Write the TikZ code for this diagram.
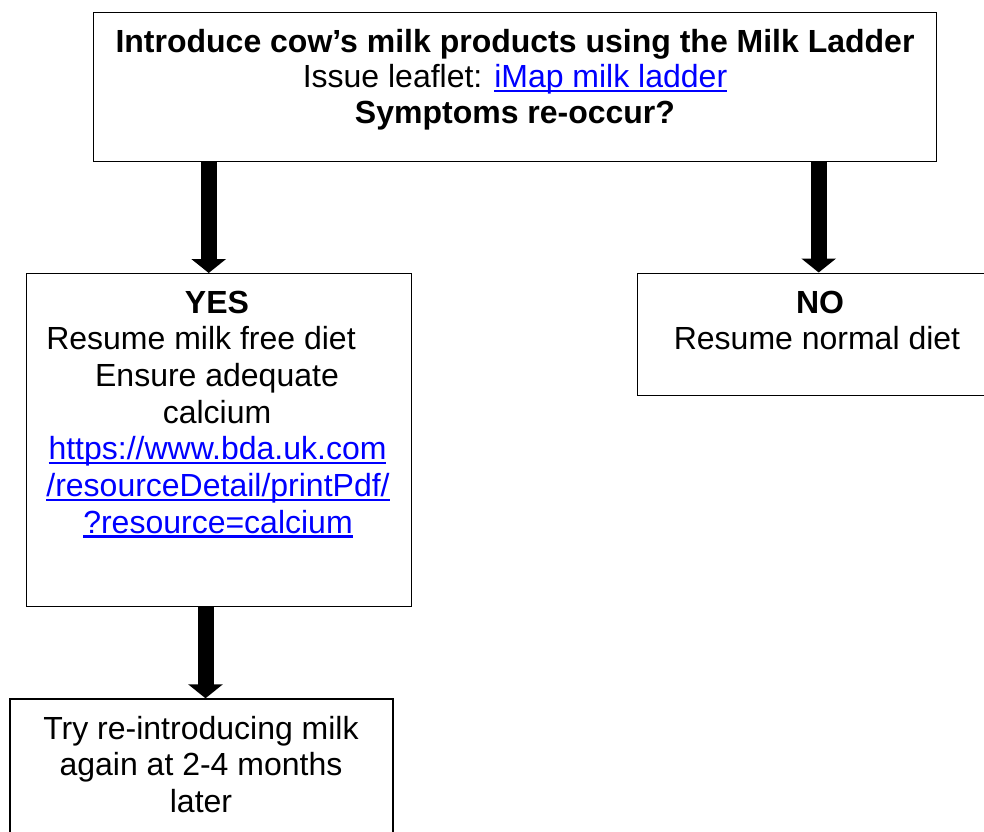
\documentclass[tikz,border=0pt]{standalone}
\usepackage{fontspec}
\setmainfont{Liberation Sans}
\usetikzlibrary{arrows.meta}
\definecolor{linkblue}{RGB}{0,0,255}
\newsavebox\ulbox
\newcommand\lnk[1]{\textcolor{linkblue}{\sbox\ulbox{#1}\rlap{\rule[-4.55pt]{\wd\ulbox}{2.3pt}}\usebox\ulbox}}
\begin{document}
\begin{tikzpicture}[x=1pt,y=-1pt,
  box/.style={draw=black,line width=1.4pt,anchor=north west,inner sep=0pt,fill=none},
  txt/.style={anchor=base,inner sep=0pt,font=\fontsize{32}{36.8}\selectfont},
  bigarrow/.style={line width=16pt,-{Triangle[width=34pt,length=14pt]}}
]
\useasboundingbox (0,0) rectangle (984,831);
\clip (0,0) rectangle (984,831);
% boxes
\node[box,minimum width=843pt,minimum height=149pt] (top) at (93,12) {};
\node[box,minimum width=385pt,minimum height=332.7pt] (yes) at (25.7,273) {};
\node[box,minimum width=360pt,minimum height=122.5pt] (no) at (636.7,272.5) {};
\node[box,minimum width=383pt,minimum height=145pt] (try) at (9.3,698.3) {};
% texts
\node[txt] (t1) at (515,52) {\textbf{Introduce cow’s milk products using the Milk Ladder}};
\node[txt] (t2) at (515,87.5) {Issue leaflet: \lnk{iMap milk ladder}};
\node[txt] (t3) at (515,123) {\textbf{Symptoms re-occur?}};
\node[txt] (y1) at (217,313) {\textbf{YES}};
\node[txt] (y2) at (201,349.5) {Resume milk free diet};
\node[txt] (y3) at (217,386.3) {Ensure adequate};
\node[txt] (y4) at (217,423) {calcium};
\node[txt] (y5) at (217.5,459.8) {\lnk{https://www.bda.uk.com}};
\node[txt] (y6) at (218,496.5) {\lnk{/resourceDetail/printPdf/}};
\node[txt] (y7) at (218,533.2) {\lnk{?resource=calcium}};
\node[txt] (n1) at (820,313) {\textbf{NO}};
\node[txt] (n2) at (817,349.5) {Resume normal diet};
\node[txt] (r1) at (201,739) {Try re-introducing milk};
\node[txt] (r2) at (201,775.7) {again at 2-4 months};
\node[txt] (r3) at (201,812.4) {later};
% arrows
\coordinate (a1x) at (208.7,0);
\coordinate (a2x) at (818.7,0);
\coordinate (a3x) at (205.5,0);
\draw[bigarrow] (a1x |- top.south) -- (a1x |- yes.north);
\draw[bigarrow] (a2x |- top.south) -- (a2x |- no.north);
\draw[bigarrow] (a3x |- yes.south) -- (a3x |- try.north);
\end{tikzpicture}
\end{document}
